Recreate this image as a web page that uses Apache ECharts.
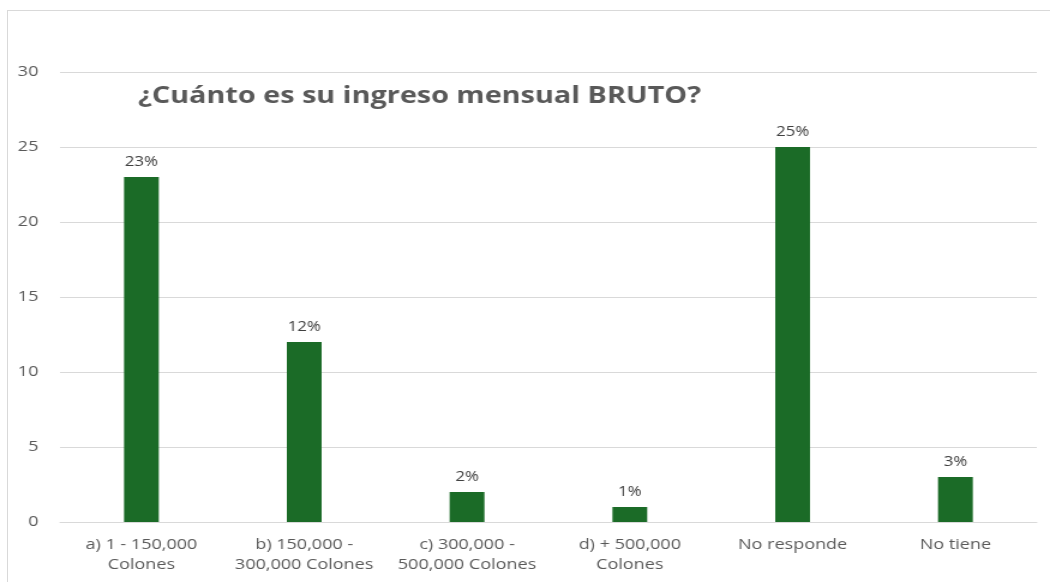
<!DOCTYPE html>
<html>
<head>
<meta charset="utf-8">
<script src="https://cdn.jsdelivr.net/npm/echarts@6/dist/echarts.min.js"></script>
<style>
  html, body { margin: 0; padding: 0; background: #fff; overflow: hidden; }
  body { position: relative; width: 1050px; height: 582px; }
  /* 原图整体被横向拉伸，这里用 scaleX 还原 */
  #chart { width: 875px; height: 582px; transform: scaleX(1.2); transform-origin: 0 0; }
  .frame { position: absolute; left: 7px; top: 10px; width: 1100px; height: 700px;
           border: 1px solid #d9d9d9; box-sizing: border-box; pointer-events: none; }
</style>
</head>
<body>
<div id="chart"></div>
<div class="frame"></div>
<script>
// 数据
const categories = [
  "a) 1 - 150,000\nColones",
  "b) 150,000 -\n300,000 Colones",
  "c) 300,000 -\n500,000 Colones",
  "d) + 500,000\nColones",
  "No responde",
  "No tiene"
];
const values = [23, 12, 2, 1, 25, 3];
const yTicks = [0, 5, 10, 15, 20, 25, 30];
const titleText = "¿Cuánto es su ingreso mensual BRUTO?";

const chart = echarts.init(document.getElementById("chart"));

const option = {
  backgroundColor: "transparent",
  animation: false,
  textStyle: { fontFamily: "Open Sans, Noto Sans, sans-serif" },
  graphic: [
    {
      type: "text",
      left: 115,
      top: 84,
      style: {
        text: titleText,
        fill: "#595959",
        font: "bold 24px 'Open Sans', sans-serif"
      }
    }
  ],
  grid: { left: 50, right: 11, top: 72, bottom: 60, containLabel: false },
  xAxis: {
    type: "category",
    data: categories,
    axisLine: { show: true, lineStyle: { color: "#d9d9d9" } },
    axisTick: { show: false },
    axisLabel: {
      color: "#595959",
      fontSize: 15,
      lineHeight: 20,
      margin: 13,
      interval: 0
    }
  },
  yAxis: {
    type: "value",
    min: yTicks[0],
    max: yTicks[yTicks.length - 1],
    interval: 5,
    axisLine: { show: false },
    axisTick: { show: false },
    splitLine: { lineStyle: { color: "#d9d9d9", width: 1 } },
    axisLabel: { color: "#595959", fontSize: 15, margin: 18 }
  },
  series: [
    {
      type: "bar",
      data: values,
      barWidth: 29,
      itemStyle: { color: "#1b6b27" },
      label: {
        show: true,
        position: "top",
        distance: 8,
        color: "#404040",
        fontSize: 14,
        formatter: p => p.value + "%"
      }
    }
  ]
};

chart.setOption(option);
</script>
</body>
</html>
